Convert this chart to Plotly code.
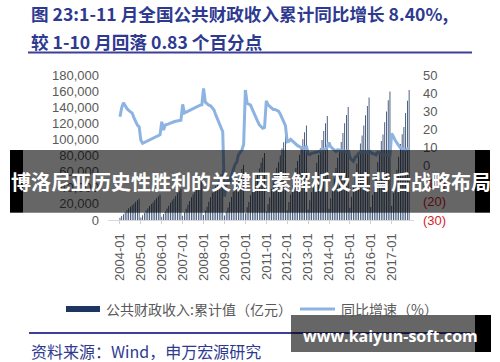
import plotly.graph_objects as go
import pandas as pd

# ---------------- data ----------------
months = [d.strftime("%Y-%m") for d in pd.date_range("2004-01-01", "2017-11-01", freq="MS")]

rev_2004 = [2640, 5020, 7130, 9770, 12140, 14520, 16500, 18210, 20320, 22570, 24550, 26400]
rev_2005 = [3160, 6010, 8550, 11710, 14560, 17410, 19780, 21840, 24370, 27060, 29430, 31650]
rev_2006 = [3880, 7360, 10470, 14340, 17830, 21320, 24230, 26740, 29850, 33140, 36050, 38760]
rev_2007 = [5130, 9750, 13860, 18990, 23610, 28230, 32080, 35410, 39520, 43880, 47730, 51320]
rev_2008 = [6130, 11650, 16560, 22690, 28210, 33730, 38330, 42320, 47220, 52440, 57040, 61330]
rev_2009 = [5600, 10500, 15600, 22300, 28700, 34800, 40600, 45600, 52300, 58500, 63600, 68520]
rev_2010 = [8300, 15800, 22400, 30700, 38200, 45700, 51900, 57300, 64000, 71100, 77300, 83100]
rev_2011 = [10400, 19700, 28000, 38400, 47800, 57100, 64900, 71700, 80000, 88800, 96600, 103870]
rev_2012 = [11700, 22300, 31700, 43400, 53900, 64500, 73300, 80900, 90300, 100300, 109000, 117250]
rev_2013 = [12900, 24500, 34900, 47800, 59400, 71000, 80700, 89100, 99400, 110400, 120100, 129140]
rev_2014 = [14000, 26700, 37900, 51900, 64600, 77200, 87700, 96800, 108100, 120000, 130500, 140350]
rev_2015 = [15200, 28900, 41100, 56300, 70000, 83700, 95100, 105000, 117200, 130100, 141600, 152220]
rev_2016 = [16000, 31000, 41900, 57000, 72000, 85000, 98000, 106000, 121200, 134800, 148800, 159550]
rev_2017 = [17500, 33500, 44400, 62500, 78500, 94300, 106500, 115500, 132700, 148000, 161300]

gr_2004 = [27.0, 32.0, 34.7, 33.0, 31.5, 30.5, 29.8, 29.0, 26.5, 24.0, 22.4, 21.5]
gr_2005 = [14.0, 12.3, 12.8, 13.3, 13.8, 14.3, 14.8, 15.3, 15.8, 16.2, 16.6, 17.0]
gr_2006 = [24.2, 19.7, 22.4, 22.5, 23.0, 23.5, 24.0, 24.2, 24.5, 24.8, 25.0, 25.0]
gr_2007 = [33.8, 29.0, 29.5, 30.0, 30.7, 31.0, 31.5, 32.0, 32.5, 33.0, 33.4, 33.5]
gr_2008 = [42.6, 35.0, 34.0, 33.4, 33.0, 31.5, 30.7, 28.0, 25.5, 23.0, 20.5, 18.7]
gr_2009 = [-17.0, -10.0, -8.3, -9.9, -5.5, -2.4, 0.5, 1.8, 5.9, 7.3, 8.6, 11.7]
gr_2010 = [41.7, 34.4, 33.8, 33.4, 31.0, 28.5, 26.5, 24.5, 22.5, 21.3, 20.6, 21.0]
gr_2011 = [35.8, 33.5, 32.5, 31.5, 31.0, 31.0, 30.7, 30.0, 28.5, 26.5, 24.2, 22.0]
gr_2012 = [13.2, 13.5, 14.5, 13.5, 12.5, 12.0, 11.0, 10.5, 10.0, 10.0, 9.5, 11.0]
gr_2013 = [6.5, 6.0, 6.9, 7.0, 7.2, 7.5, 7.8, 8.0, 8.6, 8.9, 9.0, 10.1]
gr_2014 = [12.8, 10.3, 9.3, 8.4, 7.8, 8.8, 8.5, 8.0, 8.1, 7.9, 7.6, 8.6]
gr_2015 = [4.5, 3.2, 2.4, 4.5, 5.3, 6.7, 7.4, 7.5, 7.3, 7.5, 7.3, 8.4]
gr_2016 = [7.5, 6.5, 6.5, 5.9, 7.4, 7.1, 6.4, 6.0, 5.9, 5.8, 5.6, 5.5]
gr_2017 = [17.8, 15.5, 14.0, 12.5, 11.0, 9.8, 9.5, 8.6, 8.5, 9.2, 8.4]

revenue = (rev_2004 + rev_2005 + rev_2006 + rev_2007 + rev_2008 + rev_2009 + rev_2010 +
           rev_2011 + rev_2012 + rev_2013 + rev_2014 + rev_2015 + rev_2016 + rev_2017)
growth = (gr_2004 + gr_2005 + gr_2006 + gr_2007 + gr_2008 + gr_2009 + gr_2010 +
          gr_2011 + gr_2012 + gr_2013 + gr_2014 + gr_2015 + gr_2016 + gr_2017)

x_ticks = ["2004-01", "2005-01", "2006-01", "2007-01", "2008-01", "2009-01", "2010-01",
           "2011-01", "2012-01", "2013-01", "2014-01", "2015-01", "2016-01", "2017-01"]
left_ticks = [0, 20000, 40000, 60000, 80000, 100000, 120000, 140000, 160000, 180000]
right_ticks = [-30, -20, -10, 0, 10, 20, 30, 40, 50]
right_tick_text = ["(30)", "(20)", "(10)", "0", "10", "20", "30", "40", "50"]

name_bar = "公共财政收入:累计值（亿元）"
name_line = "同比增速（%）"
title_1 = "图 23:1-11 月全国公共财政收入累计同比增长 8.40%,"
title_2 = "较 1-10 月回落 0.83 个百分点"
source = "资料来源：Wind，申万宏源研究"
banner = "博洛尼亚历史性胜利的关键因素解析及其背后战略布局"
watermark = "www.kaiyun-soft.com"

# ---------------- style ----------------
NAVY = "#1c3661"
LIGHT = "#8db3e2"
GREY = "#595959"
RED = "#d9211e"
TITLE_C = "#2e3a8f"
RULE_C = "#3d3f99"
CJK = "Noto Sans CJK SC"
LAT = "Liberation Sans, Arial, sans-serif"

W, H = 500, 362
PL, PR, PT, PB = 108, 414, 75, 220  # plot area in pixels


def fx(x):
    return (x - PL) / (PR - PL)


def fy(y):
    return (PB - y) / (PB - PT)


fig = go.Figure()
fig.add_trace(go.Bar(x=months, y=revenue, marker=dict(color=NAVY, line=dict(width=0)),
                     name=name_bar, showlegend=False, yaxis="y"))
fig.add_trace(go.Scatter(x=months, y=growth, mode="lines", line=dict(color=LIGHT, width=3),
                         name=name_line, showlegend=False, yaxis="y2"))

rt_text = [f"<span style='color:{RED}'>{t}</span>" if v < 0 else t
           for v, t in zip(right_ticks, right_tick_text)]

fig.update_layout(
    width=W, height=H,
    margin=dict(l=PL, r=W - PR, t=PT, b=H - PB, pad=0),
    paper_bgcolor="white", plot_bgcolor="white",
    bargap=0.55,
    showlegend=False,
    hovermode=False,
    xaxis=dict(type="category", categoryorder="array", categoryarray=months,
               range=[-6.87, 168.8], tickmode="array", tickvals=x_ticks, ticktext=x_ticks,
               tickangle=-90, tickfont=dict(family=LAT, size=13, color=GREY),
               ticks="outside", ticklen=3, tickcolor="#d0d0d0", ticklabelstandoff=4,
               showline=True, linecolor="#d9d9d9", linewidth=1,
               showgrid=False, zeroline=False),
    yaxis=dict(range=[0, 180000], tickmode="array", tickvals=left_ticks, tickformat=",",
               tickfont=dict(family=LAT, size=13, color=GREY), showgrid=False,
               zeroline=False, showline=False, ticks="", ticklabelstandoff=8),
    yaxis2=dict(range=[-30, 50], overlaying="y", side="right", tickmode="array",
                tickvals=right_ticks, ticktext=rt_text,
                tickfont=dict(family=LAT, size=13, color=GREY), showgrid=False,
                zeroline=False, showline=False, ticks="", ticklabelstandoff=8),
)

shapes = [
    dict(type="line", xref="paper", yref="paper", x0=fx(28), x1=fx(472), y0=fy(52.5), y1=fy(52.5),
         line=dict(color=RULE_C, width=2)),
    dict(type="line", xref="paper", yref="paper", x0=fx(29), x1=fx(471), y0=fy(333), y1=fy(333),
         line=dict(color=RULE_C, width=2)),
    # legend swatches
    dict(type="line", xref="paper", yref="paper", x0=fx(66), x1=fx(100), y0=fy(309), y1=fy(309),
         line=dict(color=NAVY, width=6)),
    dict(type="line", xref="paper", yref="paper", x0=fx(300), x1=fx(335), y0=fy(309), y1=fy(309),
         line=dict(color=LIGHT, width=3)),
    # banner overlay
    dict(type="rect", xref="paper", yref="paper", x0=fx(23), x1=fx(475), y0=fy(212.7), y1=fy(150),
         fillcolor="rgba(0,0,0,0.6)", line=dict(width=0), layer="above"),
    dict(type="rect", xref="paper", yref="paper", x0=fx(10), x1=fx(23), y0=fy(212.7), y1=fy(150),
         fillcolor="black", line=dict(width=0), layer="above"),
    dict(type="rect", xref="paper", yref="paper", x0=fx(475), x1=fx(490), y0=fy(212.7), y1=fy(150),
         fillcolor="black", line=dict(width=0), layer="above"),
    # watermark box
    dict(type="rect", xref="paper", yref="paper", x0=fx(291), x1=fx(475), y0=fy(352), y1=fy(315),
         fillcolor="rgba(0,0,0,0.6)", line=dict(width=0), layer="above"),
    dict(type="rect", xref="paper", yref="paper", x0=fx(475), x1=fx(491), y0=fy(352), y1=fy(315),
         fillcolor="black", line=dict(width=0), layer="above"),
]

annotations = [
    dict(text=f"<b>{title_1}</b>", x=fx(29), y=fy(13), xanchor="left", yanchor="middle",
         font=dict(family=CJK, size=17.6, color=TITLE_C)),
    dict(text=f"<b>{title_2}</b>", x=fx(29), y=fy(41), xanchor="left", yanchor="middle",
         font=dict(family=CJK, size=17.6, color=TITLE_C)),
    dict(text=name_bar, x=fx(104), y=fy(309), xanchor="left", yanchor="middle",
         font=dict(family=CJK, size=14, color=GREY)),
    dict(text=name_line, x=fx(339), y=fy(309), xanchor="left", yanchor="middle",
         font=dict(family=CJK, size=14, color=GREY)),
    dict(text=source, x=fx(29), y=fy(351), xanchor="left", yanchor="middle",
         font=dict(family=CJK, size=16, color=TITLE_C)),
    dict(text=f"<b>{banner}</b>", x=fx(251), y=fy(181.5), xanchor="center", yanchor="middle",
         font=dict(family=CJK, size=20, color="white")),
    dict(text=f"<b>{watermark}</b>", x=fx(390), y=fy(336), xanchor="center", yanchor="middle",
         font=dict(family="Open Sans, sans-serif", size=16, color="white")),
]
for a in annotations:
    a.update(xref="paper", yref="paper", showarrow=False)

fig.update_layout(shapes=shapes, annotations=annotations)
fig.write_html("out.html", config={"displayModeBar": False, "staticPlot": True},
               post_script="document.body.style.margin='0px';document.body.style.overflow='hidden';")
